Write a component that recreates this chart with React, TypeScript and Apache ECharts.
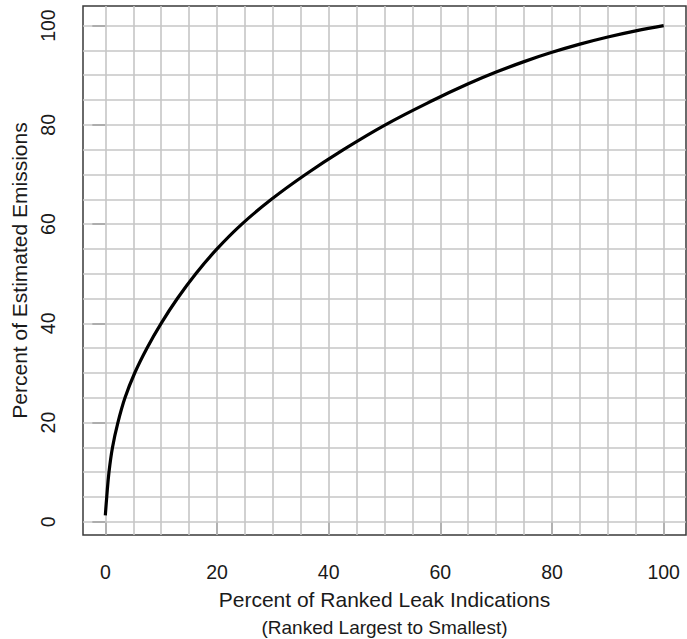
import React, { useEffect, useRef } from "react";
import * as echarts from "echarts";

// Cumulative curve
const xPct = [0, 0.25, 0.65, 1.28, 2.25, 3.52, 5.26, 7.45, 10.0, 12.9, 16.2, 20.0, 24.45, 29.75, 35.85, 42.65, 50.15, 58.8, 65, 70, 75, 80, 85, 90, 95, 100];
const yPct = [1.3, 5, 10, 15, 20, 25, 30, 35, 40, 45, 50, 55, 60, 65, 70, 75, 80, 85, 88.27, 90.63, 92.74, 94.61, 96.26, 97.7, 98.94, 100];

const xTicks = [0, 20, 40, 60, 80, 100];
const yTicks = [0, 20, 40, 60, 80, 100];
const gridValues = [0, 5, 10, 15, 20, 25, 30, 35, 40, 45, 50, 55, 60, 65, 70, 75, 80, 85, 90, 95, 100];

const xTitle = "Percent of Ranked Leak Indications";
const xSubTitle = "(Ranked Largest to Smallest)";
const yTitle = "Percent of Estimated Emissions";

const FONT = "'Liberation Sans', Arial, Helvetica, sans-serif";

const W = 687;
const H = 639;
const GRID = { left: 83, right: 1, top: 6, bottom: 104 };

function padRange(vals: number[]) {
  const lo = Math.min(...vals);
  const hi = Math.max(...vals);
  const d = (hi - lo) * 0.04;
  return [lo - d, hi + d];
}

export default function App() {
  const ref = useRef<HTMLDivElement>(null);
  useEffect(() => {
    if (!ref.current) return;
    const chart = echarts.init(ref.current, null, { renderer: "svg" });
    const [xMin, xMax] = padRange(xPct);
    const [yMin, yMax] = padRange(yPct);
    const gridLine = { color: "#c6c6c6", width: 1.6, type: "solid" };
    const plotCenterX = GRID.left + (W - GRID.left - GRID.right) / 2;
    chart.setOption({
      animation: false,
      backgroundColor: "#ffffff",
      textStyle: { fontFamily: FONT },
      grid: {
        ...GRID,
        show: true,
        borderColor: "#3a3a3a",
        borderWidth: 1.5,
        backgroundColor: "transparent",
        containLabel: false,
        outerBoundsMode: "none",
      },
      xAxis: {
        type: "value",
        min: xMin,
        max: xMax,
        axisLine: { show: false },
        splitLine: { show: false },
        axisTick: { show: true, customValues: xTicks, length: 13, lineStyle: { color: "#333", width: 1.5 } },
        axisLabel: { customValues: xTicks, margin: 27, fontSize: 19.5, color: "#1a1a1a", fontFamily: FONT },
        name: xTitle,
        nameLocation: "middle",
        nameGap: 54,
        nameTextStyle: { fontSize: 21, color: "#1a1a1a", fontFamily: FONT },
      },
      yAxis: {
        type: "value",
        min: yMin,
        max: yMax,
        axisLine: { show: false },
        splitLine: { show: false },
        axisTick: { show: true, customValues: yTicks, length: 13, lineStyle: { color: "#333", width: 1.5 } },
        axisLabel: { customValues: yTicks, rotate: 90, margin: 25, fontSize: 19.5, color: "#1a1a1a", fontFamily: FONT },
        name: yTitle,
        nameLocation: "middle",
        nameGap: 41,
        nameTextStyle: { fontSize: 21, color: "#1a1a1a", fontFamily: FONT },
      },
      graphic: [
        {
          type: "text",
          x: plotCenterX,
          y: 627,
          style: {
            text: xSubTitle,
            fill: "#1a1a1a",
            font: `19px ${FONT}`,
            textAlign: "center",
            textVerticalAlign: "middle",
          },
        },
      ],
      series: [
        {
          type: "line",
          data: [],
          silent: true,
          z: 1,
          markLine: {
            silent: true,
            symbol: ["none", "none"],
            label: { show: false },
            emphasis: { disabled: true },
            lineStyle: gridLine,
            data: [
              ...gridValues.map((v) => ({ xAxis: v })),
              ...gridValues.map((v) => ({ yAxis: v })),
            ],
          },
        },
        {
          type: "line",
          z: 5,
          data: xPct.map((x, i) => [x, yPct[i]]),
          showSymbol: false,
          symbol: "none",
          smooth: 0.4,
          lineStyle: { color: "#000", width: 3.2 },
          silent: true,
        },
      ],
    });
    return () => chart.dispose();
  }, []);
  return (
    <div
      ref={ref}
      style={{ position: "fixed", left: 0, top: 0, width: W, height: H, background: "#fff" }}
    />
  );
}
